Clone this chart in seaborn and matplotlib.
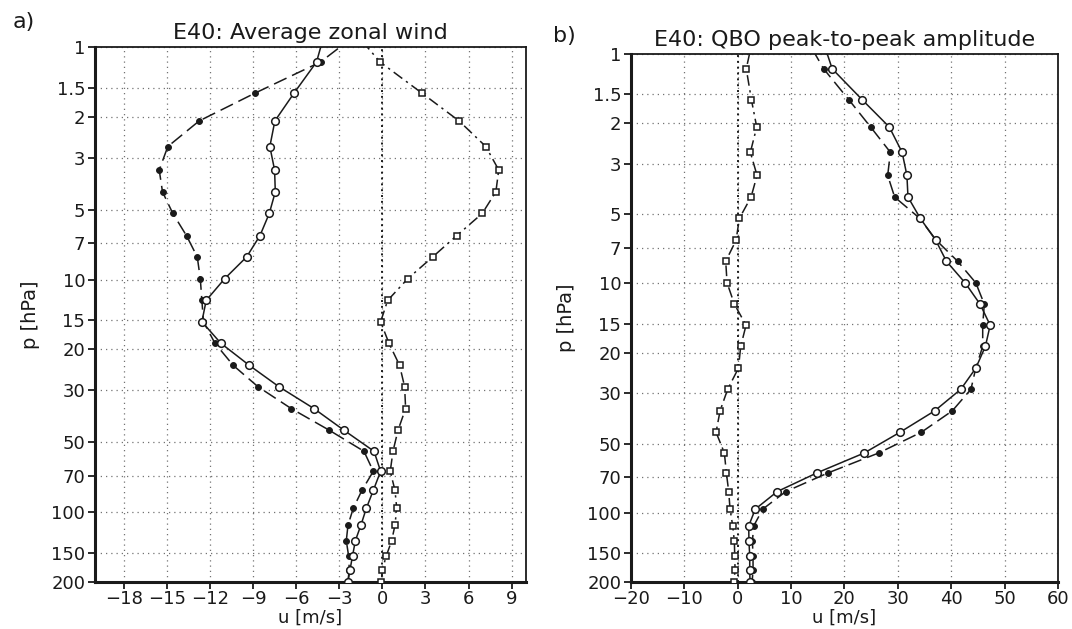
import numpy as np
import pandas as pd
import matplotlib
matplotlib.use("Agg")
import matplotlib.pyplot as plt
import seaborn as sns

sns.set_theme(style="white")
plt.rcParams['font.family'] = ['DejaVu Sans']
plt.rcParams.update({"text.color": "k", "axes.labelcolor": "k",
                     "xtick.color": "k", "ytick.color": "k"})

# pressure levels (hPa); first level (0.8) lies above the plotted range
pressure = [0.8, 1.16, 1.58, 2.08, 2.68, 3.38, 4.2, 5.2, 6.48, 8.0, 9.93, 12.3, 15.2,
            18.8, 23.4, 28.9, 35.9, 44.5, 54.8, 66.8, 80.7, 96.2, 113.8, 132.9,
            154, 177, 200]

# panel a) average zonal wind
a_filled = [-0.9, -4.3, -8.87, -12.75, -14.93, -15.53, -15.3, -14.58, -13.63, -12.88,
            -12.67, -12.56, -12.45, -11.65, -10.38, -8.66, -6.34, -3.69, -1.28, -0.63,
            -1.42, -2.02, -2.39, -2.51, -2.35, -2.3, -2.4]
a_open = [-3.85, -4.58, -6.15, -7.48, -7.83, -7.5, -7.45, -7.87, -8.52, -9.45, -10.98,
          -12.26, -12.56, -11.24, -9.26, -7.2, -4.76, -2.67, -0.58, -0.12, -0.63,
          -1.11, -1.49, -1.88, -2.07, -2.25, -2.4]
a_square = [-2.4, -0.16, 2.76, 5.34, 7.2, 8.1, 7.9, 6.95, 5.17, 3.5, 1.76, 0.37, -0.12,
            0.46, 1.2, 1.55, 1.62, 1.09, 0.74, 0.55, 0.88, 1.0, 0.88, 0.65, 0.28,
            0.0, -0.07]

# panel b) QBO peak-to-peak amplitude
b_filled = [12.1, 16.1, 20.8, 24.9, 28.6, 28.1, 29.4, 34.1, 37.2, 41.2, 44.6, 46.2,
            45.9, 45.9, 44.6, 43.7, 40.2, 34.4, 26.4, 17.0, 9.0, 4.7, 3.0, 2.75,
            2.87, 2.87, 2.7]
b_open = [15.4, 17.7, 23.3, 28.4, 30.8, 31.7, 31.9, 34.2, 37.1, 39.1, 42.6, 45.4,
          47.3, 46.4, 44.6, 41.8, 36.9, 30.4, 23.7, 14.9, 7.4, 3.3, 2.06, 2.1,
          2.25, 2.25, 2.3]
b_square = [3.1, 1.6, 2.56, 3.56, 2.37, 3.62, 2.5, 0.31, -0.31, -2.25, -2.0, -0.63,
            1.56, 0.56, 0.13, -1.88, -3.31, -4.06, -2.5, -2.13, -1.69, -1.44, -0.94,
            -0.63, -0.56, -0.5, -0.69]

ytick_vals = [1, 1.5, 2, 3, 5, 7, 10, 15, 20, 30, 50, 70, 100, 150, 200]
ytick_labels = ["1", "1.5", "2", "3", "5", "7", "10", "15", "20", "30", "50", "70",
                "100", "150", "200"]
a_xticks = [-18, -15, -12, -9, -6, -3, 0, 3, 6, 9]
b_xticks = [-20, -10, 0, 10, 20, 30, 40, 50, 60]

fig = plt.figure(figsize=(10.72, 6.29), dpi=100)
ax_a = fig.add_axes([0.0886, 0.0747, 0.4021, 0.8506])
ax_b = fig.add_axes([0.5886, 0.0747, 0.3983, 0.8394])


def draw_panel(ax, filled, opn, square, xlim, xticks):
    df = pd.DataFrame({"p": pressure, "filled": filled, "open": opn, "square": square})
    ax.set_yscale("log")
    for xt in xticks:
        ax.axvline(xt, color="0.45", lw=0.9, ls=(0, (1, 3.2)), zorder=0)
    for yt in ytick_vals:
        ax.axhline(yt, color="0.45", lw=0.9, ls=(0, (1, 3.2)), zorder=0)
    ax.axvline(0, color="k", lw=1.4, ls=(0, (1, 2)), zorder=1)
    sns.lineplot(data=df, x="filled", y="p", sort=False, estimator=None, ax=ax,
                 color="k", lw=1.1, linestyle=(0, (9, 4)), marker="o", markersize=4.2,
                 markerfacecolor="k", markeredgecolor="k", zorder=3)
    sns.lineplot(data=df, x="open", y="p", sort=False, estimator=None, ax=ax,
                 color="k", lw=1.1, linestyle="-", marker="o", markersize=5.5,
                 markerfacecolor="white", markeredgecolor="k", markeredgewidth=1.1,
                 zorder=4)
    sns.lineplot(data=df, x="square", y="p", sort=False, estimator=None, ax=ax,
                 color="k", lw=1.1, linestyle=(0, (7, 3, 1.5, 3)), marker="s",
                 markersize=5, markerfacecolor="white", markeredgecolor="k",
                 markeredgewidth=1.1, zorder=4)
    ax.set_xlim(*xlim)
    ax.set_ylim(200, 1)
    ax.set_yticks(ytick_vals)
    ax.set_yticklabels(ytick_labels)
    ax.yaxis.set_minor_locator(matplotlib.ticker.NullLocator())
    ax.set_xticks(xticks)
    ax.set_xticklabels([str(t).replace("-", "\u2212") for t in xticks])
    ax.tick_params(axis="both", direction="out", length=5, width=1.3, color="k",
                   labelsize=13, pad=2, bottom=True, left=True)
    ax.tick_params(axis="x", pad=1)
    for s in ax.spines.values():
        s.set_color("k")
        s.set_linewidth(1.3)
    ax.spines["left"].set_linewidth(2.2)
    ax.spines["bottom"].set_linewidth(2.2)
    ax.set_xlabel("u [m/s]", fontsize=13, labelpad=0)
    ax.set_ylabel("p [hPa]", fontsize=14, labelpad=8)
    ax.grid(False)


draw_panel(ax_a, a_filled, a_open, a_square, (-20, 10), a_xticks)
draw_panel(ax_b, b_filled, b_open, b_square, (-20, 60), b_xticks)

ax_a.set_title("E40: Average zonal wind", fontsize=16, pad=6)
ax_b.set_title("E40: QBO peak-to-peak amplitude", fontsize=16, pad=6)
fig.text(0.012, 0.965, "a)", fontsize=16, va="center", ha="left")
fig.text(0.516, 0.942, "b)", fontsize=16, va="center", ha="left")

fig.savefig("out.png", dpi=100)
